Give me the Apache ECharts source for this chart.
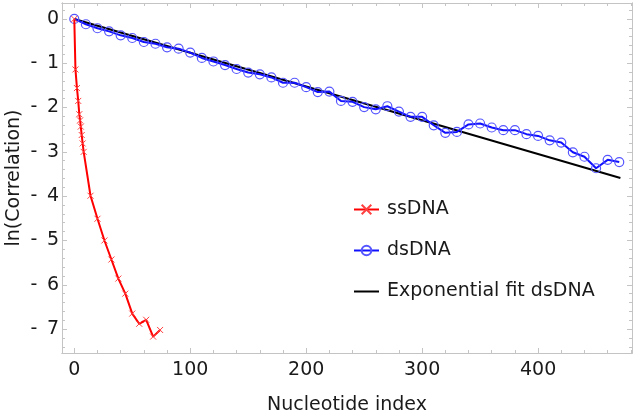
<!DOCTYPE html>
<html>
<head>
<meta charset="utf-8">
<script src="https://cdn.jsdelivr.net/npm/echarts@6/dist/echarts.min.js"></script>
<style>
html,body{margin:0;padding:0;background:#fff;}
#c{width:634px;height:418px;}
</style>
</head>
<body>
<div id="c"></div>
<script>
// ---- data ----
const ssX = [0, 1, 2.3, 3.4, 4.3, 5, 5.6, 6.4, 7.2, 8.1, 14, 20, 26, 32, 38, 44, 50, 56, 62, 68, 74];
const ssY = [0, -1.14, -1.56, -1.85, -2.15, -2.29, -2.43, -2.62, -2.81, -3.0, -3.99, -4.51, -5.0, -5.43, -5.86, -6.2, -6.65, -6.88, -6.79, -7.17, -7.02];
const dsX = [0,10,20,30,40,50,60,70,80,90,100,110,120,130,140,150,160,170,180,190,200,210,220,230,240,250,260,270,280,290,300,310,320,330,340,350,360,370,380,390,400,410,420,430,440,450,460,470];
const dsY = [0,-0.12,-0.21,-0.28,-0.37,-0.43,-0.52,-0.56,-0.64,-0.67,-0.76,-0.88,-0.96,-1.04,-1.13,-1.21,-1.25,-1.32,-1.44,-1.44,-1.54,-1.65,-1.64,-1.85,-1.87,-1.99,-2.04,-1.97,-2.09,-2.21,-2.21,-2.40,-2.57,-2.55,-2.38,-2.36,-2.45,-2.51,-2.51,-2.60,-2.64,-2.74,-2.79,-3.01,-3.11,-3.37,-3.18,-3.23];
const fitX = [0, 471];
const fitY = [0, -3.59];
const xMajor = [0, 100, 200, 300, 400];
const xMinor = [20,40,60,80,120,140,160,180,220,240,260,280,320,340,360,380,420,440,460,480];
const yMajor = [0, -1, -2, -3, -4, -5, -6, -7];
const yMinor = [0.2,-0.2,-0.4,-0.6,-0.8,-1.2,-1.4,-1.6,-1.8,-2.2,-2.4,-2.6,-2.8,-3.2,-3.4,-3.6,-3.8,-4.2,-4.4,-4.6,-4.8,-5.2,-5.4,-5.6,-5.8,-6.2,-6.4,-6.6,-6.8,-7.2,-7.4];

const XMIN = -10.6, XMAX = 481, YMIN = -7.54, YMAX = 0.36;
const frame = '#c4c4c4';
const FONT = 'DejaVu Sans';
const TXT = '#1a1a1a';
const FS = 19;

function zip(a, b){ return a.map((v,i)=>[v,b[i]]); }

function xAx(pos, ticks, len, extra){
  return Object.assign({
    type:'value', position:pos, min:XMIN, max:XMAX,
    axisLine:{show:true, onZero:false, lineStyle:{color:frame, width:1}},
    axisTick:{show:true, inside:true, length:len, customValues:ticks, lineStyle:{color:frame, width:1}},
    axisLabel:{show:false},
    splitLine:{show:false}
  }, extra||{});
}
function yAx(pos, ticks, len, extra){
  return Object.assign({
    type:'value', position:pos, min:YMIN, max:YMAX,
    axisLine:{show:true, onZero:false, lineStyle:{color:frame, width:1}},
    axisTick:{show:true, inside:true, length:len, customValues:ticks, lineStyle:{color:frame, width:1}},
    axisLabel:{show:false},
    splitLine:{show:false}
  }, extra||{});
}

const chart = echarts.init(document.getElementById('c'), null, {renderer:'canvas'});
const crossPath = 'path://M0,0L10,10M10,0L0,10';
chart.setOption({
  animation:false,
  backgroundColor:'#fff',
  textStyle:{fontFamily:FONT},
  grid:{left:62, right:2, top:3, bottom:65, containLabel:false, outerBoundsMode:'none'},
  legend:{
    orient:'vertical', left:348, top:195, itemGap:22, itemWidth:25, itemHeight:12,
    textStyle:{fontFamily:FONT, fontSize:FS, color:TXT, padding:[0,0,0,3]},
    data:['ssDNA','dsDNA',{name:'Exponential fit dsDNA', itemStyle:{color:'rgba(0,0,0,0)', borderWidth:0, opacity:0}}]
  },
  xAxis:[
    xAx('bottom', xMajor, 5, {
      axisLabel:{show:true, customValues:xMajor, margin:8, fontFamily:FONT, fontSize:FS, color:TXT},
      name:'Nucleotide index', nameLocation:'middle', nameGap:43, nameMoveOverlap:false,
      nameTextStyle:{fontFamily:FONT, fontSize:FS, color:TXT}
    }),
    xAx('bottom', xMinor, 3),
    xAx('top', xMajor, 5),
    xAx('top', xMinor, 3)
  ],
  yAxis:[
    yAx('left', yMajor, 5, {
      axisLabel:{show:true, customValues:yMajor, margin:3, fontFamily:FONT, fontSize:FS, color:TXT,
        formatter:function(v){ return v < 0 ? '-\u2002' + Math.round(-v) : String(Math.round(v)); }},
      name:'ln(Correlation)', nameLocation:'middle', nameGap:38, nameMoveOverlap:false,
      nameTextStyle:{fontFamily:FONT, fontSize:FS, color:TXT}
    }),
    yAx('left', yMinor, 3),
    yAx('right', yMajor, 5),
    yAx('right', yMinor, 3)
  ],
  series:[
    {
      name:'Exponential fit dsDNA', type:'line', xAxisIndex:0, yAxisIndex:0,
      data:zip(fitX, fitY), symbol:'none',
      lineStyle:{color:'#000', width:2}, itemStyle:{color:'#000'}, z:3
    },
    {
      name:'dsDNA', type:'line', xAxisIndex:0, yAxisIndex:0,
      data:zip(dsX, dsY), symbol:'circle', symbolSize:9, showAllSymbol:true,
      lineStyle:{color:'#1010ff', width:2},
      itemStyle:{color:'rgba(255,255,255,0)', borderColor:'#5555ff', borderWidth:1.2}, z:4
    },
    {
      name:'ssDNA', type:'line', xAxisIndex:0, yAxisIndex:0,
      data:zip(ssX, ssY), symbol:crossPath, symbolSize:6, showAllSymbol:true,
      lineStyle:{color:'#ff0000', width:2},
      itemStyle:{color:'#ff4040', borderColor:'#ff4040', borderWidth:1}, z:5
    }
  ]
});
</script>
</body>
</html>
